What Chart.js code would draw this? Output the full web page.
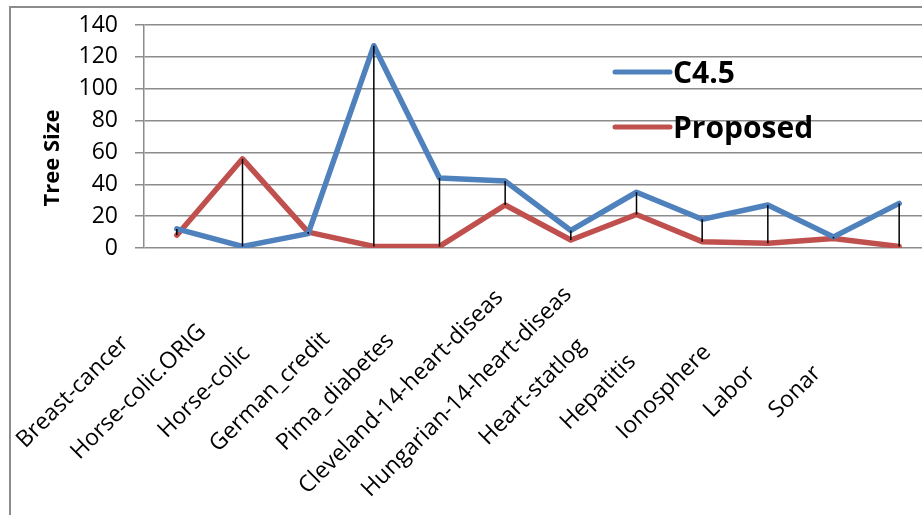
<!DOCTYPE html>
<html lang="en">
<head>
  <meta charset="UTF-8">
  <title>Tree Size</title>
  <script src="https://cdn.jsdelivr.net/npm/chart.js@4.4.1/dist/chart.umd.min.js"></script>
  <style>
    body { margin: 0; background: #fff; }
    #wrap { position: relative; width: 922px; height: 515px; overflow: hidden; }
    #frame { position: absolute; left: 9px; top: 6px; width: 1000px; height: 1000px;
             border-left: 2px solid #8c8c8c; border-top: 2px solid #8c8c8c; }
    canvas { position: absolute; left: 0; top: 0; }
  </style>
</head>
<body>
  <div id="wrap">
    <div id="frame"></div>
    <canvas id="myChart" width="940" height="515"></canvas>
  </div>

  <script>
    // data
    var categories = ['Breast-cancer', 'Horse-colic.ORIG', 'Horse-colic', 'German_credit', 'Pima_diabetes',
      'Cleveland-14-heart-diseas', 'Hungarian-14-heart-diseas', 'Heart-statlog', 'Hepatitis',
      'Ionosphere', 'Labor', 'Sonar'];
    var c45 = [12, 1, 9, 127, 44, 42, 11, 35, 18, 27, 7, 28];
    var proposed = [8, 56, 10, 1, 1, 27, 5, 21, 4, 3, 6, 1];
    var yTicks = [0, 20, 40, 60, 80, 100, 120, 140];

    var blue = '#4F81BD';
    var red = '#C0504D';

    // high-low lines, x labels, y title and legend drawn by hand
    var extras = {
      id: 'extras',
      afterDatasetsDraw: function (chart) {
        var ctx = chart.ctx, x = chart.scales.x, y = chart.scales.y;
        ctx.save();
        ctx.strokeStyle = '#000';
        ctx.lineWidth = 1.5;
        for (var i = 0; i < categories.length; i++) {
          var px = x.getPixelForValue(i);
          ctx.beginPath();
          ctx.moveTo(px, y.getPixelForValue(c45[i]));
          ctx.lineTo(px, y.getPixelForValue(proposed[i]));
          ctx.stroke();
        }
        ctx.restore();
      },
      afterDraw: function (chart) {
        var ctx = chart.ctx, x = chart.scales.x;
        ctx.save();
        ctx.fillStyle = '#000';

        // category labels, rotated 45deg
        ctx.font = '23px "Open Sans"';
        ctx.textAlign = 'center';
        ctx.textBaseline = 'middle';
        for (var i = 0; i < categories.length; i++) {
          ctx.save();
          ctx.translate(x.getPixelForValue(i) - 104, 392);
          ctx.rotate(-Math.PI / 4);
          ctx.fillText(categories[i], 0, 0);
          ctx.restore();
        }

        // y title
        ctx.save();
        ctx.font = 'bold 22px "Open Sans"';
        ctx.translate(53, 158);
        ctx.rotate(-Math.PI / 2);
        ctx.fillText('Tree Size', 0, 0);
        ctx.restore();

        // legend
        var rows = [72, 127];
        ctx.font = 'bold 30px "Open Sans"';
        ctx.textAlign = 'left';
        ctx.textBaseline = 'alphabetic';
        chart.data.datasets.forEach(function (ds, k) {
          ctx.strokeStyle = ds.borderColor;
          ctx.lineWidth = 5;
          ctx.lineCap = 'round';
          ctx.beginPath();
          ctx.moveTo(615, rows[k]);
          ctx.lineTo(670, rows[k]);
          ctx.stroke();
          ctx.fillText(ds.label, 673, rows[k] + 11);
        });
        ctx.restore();
      }
    };

    var ctx = document.getElementById('myChart').getContext('2d');
    var myChart = new Chart(ctx, {
      type: 'line',
      data: {
        labels: categories,
        datasets: [{
          label: 'C4.5',
          data: c45,
          borderColor: blue,
          backgroundColor: blue,
          borderWidth: 5.5,
          pointRadius: 0,
          borderJoinStyle: 'round',
          borderCapStyle: 'round'
        }, {
          label: 'Proposed',
          data: proposed,
          borderColor: red,
          backgroundColor: red,
          borderWidth: 5.5,
          pointRadius: 0,
          borderJoinStyle: 'round',
          borderCapStyle: 'round'
        }]
      },
      options: {
        responsive: false,
        animation: false,
        layout: { padding: { left: 0, top: 25, right: 8, bottom: 0 } },
        plugins: { legend: { display: false }, tooltip: { enabled: false } },
        scales: {
          x: {
            offset: true,
            grid: { display: false },
            border: { display: false },
            ticks: { display: false },
            afterFit: function (scale) { scale.height = 515 - 248; }
          },
          y: {
            min: 0,
            max: 140,
            afterBuildTicks: function (scale) {
              scale.ticks = yTicks.map(function (v) { return { value: v }; });
            },
            grid: { color: '#8c8c8c', lineWidth: 1.5, tickLength: 9 },
            border: { display: true, color: '#8c8c8c', width: 1.5 },
            ticks: { color: '#000', padding: 17, font: { family: 'Open Sans', size: 23 } },
            afterFit: function (scale) {
              scale.width = 144;
              scale.paddingTop = 0;
              scale.paddingBottom = 0;
            }
          }
        }
      },
      plugins: [extras]
    });
  </script>
</body>
</html>
